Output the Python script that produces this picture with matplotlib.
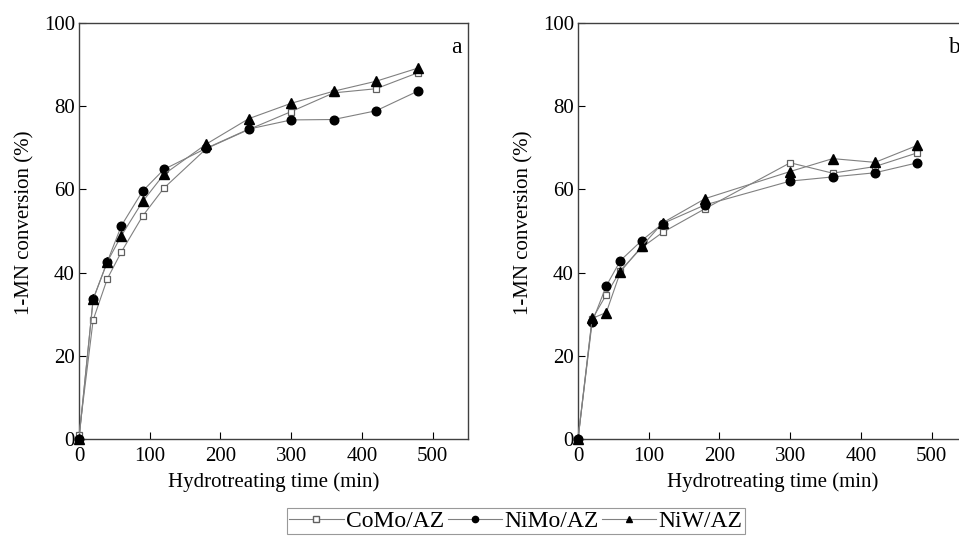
import matplotlib
matplotlib.use("Agg")
import matplotlib.pyplot as plt
from matplotlib.lines import Line2D

plt.rcParams["font.family"] = ["Liberation Serif", "DejaVu Serif"]

# ── Data ──────────────────────────────────────────────────────────────────────
time_a = [0, 20, 40, 60, 90, 120, 180, 240, 300, 360, 420, 480]
como_a = [1.0, 28.6, 38.5, 45.0, 53.6, 60.3, 69.8, 74.4, 78.7, 83.2, 84.2, 88.1]
nimo_a = [0.0, 33.6, 42.6, 51.3, 59.6, 64.8, 69.9, 74.5, 76.7, 76.8, 78.9, 83.7]
niw_a = [0.0, 33.6, 42.6, 48.9, 57.1, 63.6, 70.9, 77.0, 80.7, 83.6, 86.0, 89.2]

time_b = [0, 20, 40, 60, 90, 120, 180, 300, 360, 420, 480]
como_b = [0.0, 28.8, 34.7, 40.5, 46.0, 49.7, 55.4, 66.4, 63.9, 65.5, 68.8]
nimo_b = [0.0, 28.1, 36.8, 42.9, 47.7, 51.8, 56.3, 62.0, 63.0, 64.0, 66.4]
niw_b = [0.0, 29.0, 30.4, 40.2, 46.3, 52.0, 57.8, 64.3, 67.4, 66.5, 70.6]

labels = ["CoMo/AZ", "NiMo/AZ", "NiW/AZ"]
x_ticks = [0, 100, 200, 300, 400, 500]
y_ticks = [0, 20, 40, 60, 80, 100]

LINE = "#808080"
STYLES = [
    dict(marker="s", mfc="white", mec="#606060", ms=5, mew=0.9),
    dict(marker="o", mfc="black", mec="black", ms=6.2),
    dict(marker="^", mfc="black", mec="black", ms=6.5),
]

fig = plt.figure(figsize=(9.59, 5.36), dpi=100)
ax_a = fig.add_axes([79 / 959, 1 - 439 / 536, 389 / 959, 416 / 536])
ax_b = fig.add_axes([578 / 959, 1 - 439 / 536, 389 / 959, 416 / 536])

panels = [
    (ax_a, time_a, [como_a, nimo_a, niw_a], "a"),
    (ax_b, time_b, [como_b, nimo_b, niw_b], "b"),
]
for ax, t, series, tag in panels:
    for y, st in zip(series, STYLES):
        ax.plot(t, y, color=LINE, lw=0.8, **st, clip_on=False, zorder=3)
    ax.set_xlim(0, 550)
    ax.set_ylim(0, 100)
    ax.set_xticks(x_ticks)
    ax.set_yticks(y_ticks)
    ax.tick_params(direction="in", length=5, width=0.8, labelsize=15,
                   top=False, right=False)
    ax.tick_params(axis="x", pad=6)
    ax.tick_params(axis="y", pad=3)
    for sp in ax.spines.values():
        sp.set_linewidth(1.0)
        sp.set_color("#404040")
    ax.set_xlabel("Hydrotreating time (min)", fontsize=15, labelpad=4)
    ax.set_ylabel("1-MN conversion (%)", fontsize=15)
    ax.yaxis.set_label_coords(-0.115, 0.52)
    ax.text(0.97, 0.94, tag, transform=ax.transAxes, fontsize=17,
            ha="center", va="center")

handles = [
    Line2D([], [], color=LINE, lw=0.8, marker="s", mfc="white", mec="#606060", ms=4),
    Line2D([], [], color=LINE, lw=0.8, marker="o", mfc="black", mec="black", ms=4.5),
    Line2D([], [], color=LINE, lw=0.8, marker="^", mfc="black", mec="black", ms=5),
]
leg = fig.legend(handles, labels, loc="upper center", bbox_to_anchor=(516 / 959, 1 - 508 / 536),
                 ncol=3, fontsize=17, frameon=True, fancybox=False, borderpad=0.1,
                 handlelength=2.3, handletextpad=0.1, columnspacing=0.15,
                 borderaxespad=0)
leg.get_frame().set_edgecolor("#808080")
leg.get_frame().set_linewidth(0.8)

fig.savefig("out.png", dpi=100)
